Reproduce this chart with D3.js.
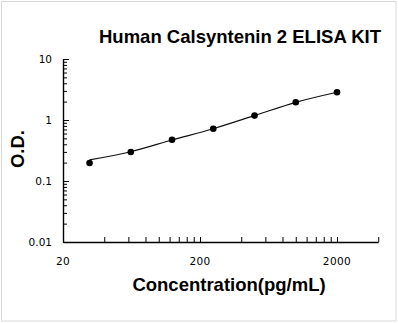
<!DOCTYPE html>
<html>
<head>
<meta charset="utf-8">
<script src="https://cdn.jsdelivr.net/npm/d3@7/dist/d3.min.js"></script>
<style>
  html, body { margin: 0; padding: 0; background: #fff; }
  svg { display: block; }
</style>
</head>
<body>
<script>
// ---- data ----
const titleText = "Human Calsyntenin 2 ELISA KIT";
const xLabel = "Concentration(pg/mL)";
const yLabel = "O.D.";
const concentrations = [31.25, 62.5, 125, 250, 500, 1000, 2000];
const odValues = [0.197, 0.299, 0.475, 0.72, 1.18, 1.95, 2.85];
const fitConc = [31.25, 62.5, 125, 250, 500, 1000, 2000];
const fitOD = [0.222, 0.302, 0.47, 0.72, 1.18, 1.95, 2.85];
const xMajorTicks = [20, 200, 2000];
const xMinorTicks = [40, 60, 80, 100, 120, 140, 160, 180, 400, 600, 800, 1000, 1200, 1400, 1600, 1800, 4000];
const yMajorTicks = [0.01, 0.1, 1, 10];
const yTickLabels = ["0.01", "0.1", "1", "10"];
const yMinorTicks = [0.02,0.03,0.04,0.05,0.06,0.07,0.08,0.09,0.2,0.3,0.4,0.5,0.6,0.7,0.8,0.9,2,3,4,5,6,7,8,9];

const W = 398, H = 323;
const svg = d3.select("body").append("svg").attr("width", W).attr("height", H);

// border
svg.append("rect").attr("x", 1.5).attr("y", 1.5).attr("width", 394.5).attr("height", 319.5)
  .attr("fill", "#fff").attr("stroke", "#d9d9d9").attr("stroke-width", 1);

const x = d3.scaleLog().domain([20, 4000]).range([63, 63 + 137 * Math.log10(200)]);
const y = d3.scaleLog().domain([0.01, 10]).range([242, 59]);

const g = svg.append("g");

// x axis
const xAxis = d3.axisBottom(x).tickValues(xMajorTicks.concat(xMinorTicks)).tickFormat("").tickSizeInner(-5).tickSizeOuter(0);
const gx = g.append("g").attr("transform", `translate(0,${y(0.01)})`).call(xAxis);
gx.select(".domain").attr("stroke", "#000").attr("stroke-width", 1.4);
gx.selectAll(".tick line").attr("stroke", "#000").attr("stroke-width", 1);

g.selectAll(".xlab").data(xMajorTicks).enter().append("text")
  .attr("x", d => x(d)).attr("y", 265)
  .attr("text-anchor", "middle")
  .style("font-family", "'DejaVu Sans', Verdana, sans-serif").style("font-size", "10.5px")
  .style("letter-spacing", "0.4px")
  .attr("fill", "#000").text(d => d3.format("d")(d));

// y axis
const yAxisMajor = d3.axisLeft(y).tickValues(yMajorTicks).tickFormat("").tickSizeInner(-6).tickSizeOuter(0);
const gy = g.append("g").attr("transform", `translate(${x(20)},0)`).call(yAxisMajor);
gy.select(".domain").attr("stroke", "#000").attr("stroke-width", 1.4);
gy.selectAll(".tick line").attr("stroke", "#000").attr("stroke-width", 1);
const yAxisMinor = d3.axisLeft(y).tickValues(yMinorTicks).tickFormat("").tickSizeInner(-4).tickSizeOuter(0);
const gy2 = g.append("g").attr("transform", `translate(${x(20)},0)`).call(yAxisMinor);
gy2.select(".domain").remove();
gy2.selectAll(".tick line").attr("stroke", "#000").attr("stroke-width", 1);

g.selectAll(".ylab").data(yMajorTicks).enter().append("text")
  .attr("x", 52).attr("y", d => y(d) + 4)
  .attr("text-anchor", "end")
  .style("font-family", "'DejaVu Sans', Verdana, sans-serif").style("font-size", "10.5px")
  .attr("fill", "#000").text((d, i) => yTickLabels[i]);

// fitted curve
const fitData = fitConc.map((c, i) => [c, fitOD[i]]);
g.append("path").datum(fitData)
  .attr("fill", "none").attr("stroke", "#111").attr("stroke-width", 1.2)
  .attr("d", d3.line().x(d => x(d[0])).y(d => y(d[1])).curve(d3.curveMonotoneX));

// points
g.selectAll(".pt").data(concentrations).enter().append("circle")
  .attr("cx", d => x(d)).attr("cy", (d, i) => y(odValues[i])).attr("r", 3.3)
  .attr("fill", "#000");

// titles
svg.append("text").attr("x", 240).attr("y", 43).attr("text-anchor", "middle")
  .style("font-family", "'Liberation Sans', Arial, sans-serif").style("font-weight", "bold").style("font-size", "18.5px")
  .text(titleText);
svg.append("text").attr("x", 229).attr("y", 291).attr("text-anchor", "middle")
  .style("font-family", "'Liberation Sans', Arial, sans-serif").style("font-weight", "bold").style("font-size", "18.5px")
  .text(xLabel);
svg.append("text").attr("transform", "translate(24,149) rotate(-90)").attr("text-anchor", "middle")
  .style("font-family", "'Liberation Sans', Arial, sans-serif").style("font-weight", "bold").style("font-size", "18.5px")
  .text(yLabel);
</script>
</body>
</html>
